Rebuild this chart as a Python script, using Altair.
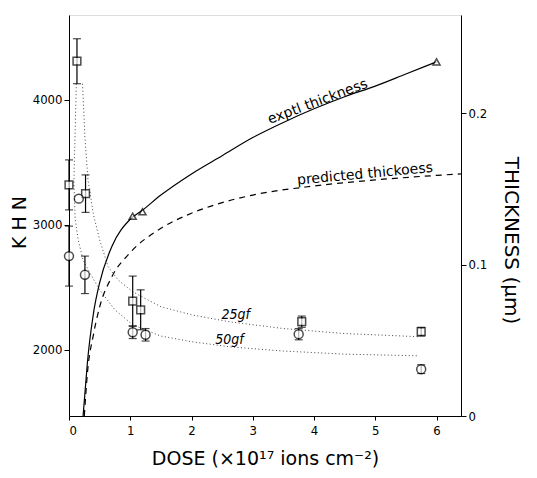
import altair as alt
import pandas as pd

FONT = "DejaVu Sans Condensed"
FONT2 = "DejaVu Sans"

# ---- KHN data (left axis) ----
sq_x = [0.0, 0.13, 0.27, 1.04, 1.17, 3.80, 5.75]          # 25gf squares
sq_y = [3320, 4310, 3250, 2390, 2320, 2225, 2145]
sq_err = [200, 180, 150, 200, 160, 45, 35]

ci_x = [0.0, 0.16, 0.26, 1.04, 1.25, 3.75, 5.75]          # 50gf circles
ci_y = [2750, 3210, 2600, 2140, 2120, 2125, 1845]
ci_err = [240, 0, 150, 50, 50, 45, 35]

fit25_x = [0.22, 0.26, 0.31, 0.40, 0.50, 0.64, 0.80, 1.04, 1.50, 2.00, 2.62, 3.50, 4.50, 5.70]
fit25_y = [4130, 3700, 3360, 3080, 2880, 2664, 2560, 2464, 2345, 2280, 2224, 2170, 2130, 2105]

fit50_x = [0.12, 0.10, 0.08, 0.10, 0.15, 0.23, 0.34, 0.50, 0.75, 1.04, 1.50, 2.00, 2.62, 3.50, 4.50, 5.70]
fit50_y = [4130, 3750, 3350, 3050, 2880, 2720, 2616, 2480, 2320, 2200, 2110, 2065, 2024, 1990, 1965, 1952]

# ---- thickness data (right axis) ----
tri_x = [1.04, 1.20, 6.0]
tri_y = [0.132, 0.135, 0.234]

expt_x = [0.23, 0.27, 0.30, 0.40, 0.50, 0.70, 1.00, 1.20, 1.50, 2.00, 2.50, 3.00, 3.50, 4.00, 4.50, 5.00, 5.50, 6.00]
expt_y = [0.0, 0.020, 0.035, 0.068, 0.088, 0.112, 0.130, 0.136, 0.146, 0.160, 0.172, 0.184, 0.194, 0.203, 0.211, 0.218, 0.226, 0.234]

pred_x = [0.25, 0.30, 0.40, 0.50, 0.70, 1.00, 1.50, 2.00, 2.50, 3.00, 4.00, 5.00, 6.00, 6.40]
pred_y = [0.0, 0.028, 0.054, 0.072, 0.092, 0.108, 0.124, 0.134, 0.141, 0.146, 0.152, 0.156, 0.159, 0.160]

labels_th = ["exptl thickness", "predicted thickoess"]
labels_th_x = [4.09, 4.84]
labels_th_y = [0.2045, 0.1565]
labels_th_angle = [339.5, 354.7]

labels_k = ["25gf", "50gf"]
labels_k_x = [2.72, 2.62]
labels_k_y = [2245, 2050]

x_ticks = [0, 1, 2, 3, 4, 5, 6]
k_ticks = [2000, 3000, 4000]
t_ticks = [0, 0.1, 0.2]

XDOM = [0, 6.4]
KDOM = [1470, 4680]
TDOM = [0, 0.265]

xsc = alt.Scale(domain=XDOM, nice=False, zero=False)
ksc = alt.Scale(domain=KDOM, nice=False, zero=False)
tsc = alt.Scale(domain=TDOM, nice=False, zero=False)

xaxis = alt.Axis(values=x_ticks, title="DOSE (×10¹⁷ ions cm⁻²)", grid=False, format="d",
                 domainColor="black", tickColor="black", tickSize=4, labelFont=FONT, labelFontSize=13,
                 labelColor="black", titleFont=FONT2, titleFontSize=19, titleFontWeight="normal",
                 titleColor="black", titlePadding=12, labelPadding=4)
kaxis = alt.Axis(values=k_ticks, title="K H N", grid=False, orient="left", format="d",
                 domainColor="black", tickColor="black", tickSize=5, labelFont=FONT, labelFontSize=13,
                 labelColor="black", titleFont=FONT2, titleFontSize=19, titleFontWeight="normal",
                 titleColor="black", titlePadding=3, labelPadding=2, titleY=207)
taxis = alt.Axis(values=t_ticks, title="THICKNESS (μm)", grid=False, orient="right",
                 labelExpr="datum.value == 0 ? '0' : format(datum.value, '.1f')",
                 domainColor="black", tickColor="black", tickSize=5, labelFont=FONT, labelFontSize=13,
                 labelColor="black", titleFont=FONT2, titleFontSize=20, titleFontWeight="normal",
                 titleColor="black", titlePadding=14, labelPadding=2, titleY=225)

sq = pd.DataFrame({"x": sq_x, "y": sq_y, "lo": [a - b for a, b in zip(sq_y, sq_err)],
                   "hi": [a + b for a, b in zip(sq_y, sq_err)]})
ci = pd.DataFrame({"x": ci_x, "y": ci_y, "lo": [a - b for a, b in zip(ci_y, ci_err)],
                   "hi": [a + b for a, b in zip(ci_y, ci_err)]})
errs = pd.concat([sq, ci[ci["hi"] > ci["lo"]]], ignore_index=True)
f25 = pd.DataFrame({"x": fit25_x, "y": fit25_y, "o": list(range(len(fit25_x)))})
f50 = pd.DataFrame({"x": fit50_x, "y": fit50_y, "o": list(range(len(fit50_x)))})

X = alt.X("x:Q", scale=xsc, axis=xaxis)
Y = alt.Y("y:Q", scale=ksc, axis=kaxis)

dot25 = alt.Chart(f25).mark_line(color="#444", strokeWidth=1, strokeDash=[1, 2.5]).encode(
    x=X, y=Y, order="o:Q")
dot50 = alt.Chart(f50).mark_line(color="#444", strokeWidth=1, strokeDash=[1, 2.5]).encode(
    x=X, y=Y, order="o:Q")
bars = alt.Chart(errs).mark_rule(color="black", strokeWidth=1.2).encode(
    x=X, y=alt.Y("lo:Q", scale=ksc, axis=kaxis), y2="hi:Q")
caps_hi = alt.Chart(errs).mark_tick(color="black", orient="horizontal", size=8, thickness=1.2).encode(
    x=X, y=alt.Y("hi:Q", scale=ksc, axis=kaxis))
caps_lo = alt.Chart(errs).mark_tick(color="black", orient="horizontal", size=8, thickness=1.2).encode(
    x=X, y=alt.Y("lo:Q", scale=ksc, axis=kaxis))
sqp = alt.Chart(sq).mark_point(shape="square", size=60, filled=True, fill="white", stroke="black",
                               strokeWidth=1.5).encode(x=X, y=Y)
cip = alt.Chart(ci).mark_point(shape="circle", size=80, filled=True, fill="white", stroke="black",
                               strokeWidth=1.5).encode(x=X, y=Y)
klab = alt.Chart(pd.DataFrame({"x": labels_k_x, "y": labels_k_y, "t": labels_k})).mark_text(
    font=FONT, fontSize=14, fontStyle="italic", color="black", align="center", baseline="alphabetic"
).encode(x=X, y=Y, text="t:N")

left = alt.layer(dot25, dot50, bars, caps_hi, caps_lo, sqp, cip, klab)

TY = alt.Y("y:Q", scale=tsc, axis=taxis)
expt = alt.Chart(pd.DataFrame({"x": expt_x, "y": expt_y})).mark_line(
    color="black", strokeWidth=1.2, interpolate="monotone").encode(x=X, y=TY)
pred = alt.Chart(pd.DataFrame({"x": pred_x, "y": pred_y})).mark_line(
    color="black", strokeWidth=1.2, strokeDash=[6, 5], interpolate="monotone").encode(x=X, y=TY)
tri = alt.Chart(pd.DataFrame({"x": tri_x, "y": tri_y})).mark_point(
    shape="triangle-up", size=50, filled=True, fill="white", stroke="black", strokeWidth=1.5
).encode(x=X, y=TY)
tlab = alt.Chart(pd.DataFrame({"x": labels_th_x, "y": labels_th_y, "t": labels_th,
                               "a": labels_th_angle})).mark_text(
    font=FONT2, fontSize=14, color="black", align="center", baseline="alphabetic", dy=-1
).encode(x=X, y=TY, text="t:N", angle=alt.Angle("a:Q", scale=None))

right = alt.layer(expt, pred, tri, tlab)

chart = alt.layer(left, right).resolve_scale(y="independent").properties(
    width=392, height=401,
    autosize=alt.AutoSizeParams(type="none"),
    padding={"left": 61, "top": 7, "right": 68, "bottom": 58},
).configure_view(stroke=None).configure(background="white")

chart.save("out.html", embed_options={"renderer": "svg", "actions": False})
